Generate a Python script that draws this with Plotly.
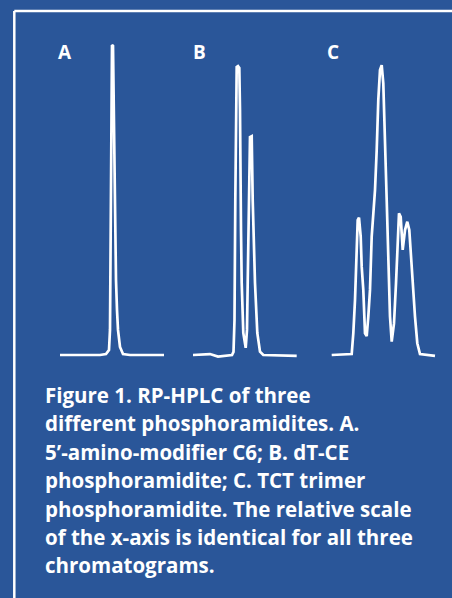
import plotly.graph_objects as go

# Chromatogram A: 5'-amino-modifier C6 (time units, relative signal)
a_time = [0.5, 4.5, 5.1, 5.4, 5.5, 5.55, 5.6, 5.65, 5.7, 5.8, 5.85, 5.9, 6.0, 6.1, 6.2, 6.3, 6.5, 6.8, 7.5, 10.9]
a_signal = [0, 0, 0.3, 1.6, 8.1, 33.9, 66.1, 88.7, 100, 99.7, 88.7, 66.1, 40.3, 24.2, 14.5, 8.1, 2.6, 0.3, 0, 0]

# Chromatogram B: dT-CE phosphoramidite
b_time = [0.5, 1.5, 2.2, 3.0, 3.8, 4.4, 4.55, 4.65, 4.73, 4.8, 4.87, 5.0, 5.13, 5.2, 5.22, 5.3, 5.37, 5.53, 5.77,
          5.9, 5.97, 6.1, 6.2, 6.37, 6.47, 6.7, 6.93, 7.2, 7.53, 10.87]
b_signal = [0, 0.2, 0.3, -0.5, -0.2, 0, 1.0, 11.3, 50, 79, 92.9, 93.2, 92.6, 79, 60.6, 40.3, 23.2, 7.1, 2.3,
            8.1, 23.2, 55.5, 70.3, 70.6, 50, 23.2, 7.1, 1.1, 0, -0.3]

# Chromatogram C: TCT trimer phosphoramidite
c_time = [0.47, 2.47, 2.63, 2.8, 2.97, 3.07, 3.2, 3.37, 3.47, 3.63, 3.8, 3.97, 4.13, 4.3, 4.47, 4.63, 4.8, 4.97,
          5.13, 5.3, 5.47, 5.63, 5.8, 5.97, 6.13, 6.3, 6.47, 6.7, 6.9, 7.03, 7.2, 7.37, 7.57, 7.8, 8.03, 8.23,
          8.4, 8.57, 8.8, 9.03, 9.3, 10.8]
c_signal = [0, 0.3, 7.0, 17.7, 33.9, 43.5, 44.3, 38.2, 28.5, 21.0, 7.0, 6.1, 12.4, 21.0, 38.2, 44.6, 53.2, 66.1,
            82.3, 91.9, 93.5, 87.6, 71.5, 50, 31.7, 12.4, 4.3, 10.2, 23.1, 36.0, 45.7, 44.6, 33.9, 40.3, 43.0, 40.3,
            31.7, 21.0, 12.4, 3.8, 0.3, -0.3]

panel_labels = ["A", "B", "C"]
caption_lines = [
    "Figure 1. RP-HPLC of three",
    "different phosphoramidites. A.",
    "5\u2019-amino-modifier C6; B. dT-CE",
    "phosphoramidite; C. TCT trimer",
    "phosphoramidite. The relative scale",
    "of the x-axis is identical for all three",
    "chromatograms.",
]

W, H = 452, 598
BG = "#2a5699"
FONT = "Open Sans"

fig = go.Figure()
series = [(a_time, a_signal, "x"), (b_time, b_signal, "x2"), (c_time, c_signal, "x3")]
for t, s, xa in series:
    fig.add_trace(go.Scatter(x=t, y=s, mode="lines", xaxis=xa, yaxis="y",
                             line=dict(color="white", width=2.7), hoverinfo="skip",
                             showlegend=False))

def px_x(p):
    return p / W

def px_y(p):
    return 1 - p / H

axis_common = dict(range=[0, 11.5], visible=False, showgrid=False, zeroline=False, fixedrange=True)
fig.update_layout(
    width=W, height=H,
    margin=dict(l=0, r=0, t=0, b=0),
    paper_bgcolor=BG, plot_bgcolor="rgba(0,0,0,0)",
    xaxis=dict(domain=[px_x(55), px_x(170)], anchor="y", **axis_common),
    xaxis2=dict(domain=[px_x(188), px_x(303)], anchor="y", **axis_common),
    xaxis3=dict(domain=[px_x(327), px_x(442)], anchor="y", **axis_common),
    yaxis=dict(domain=[px_y(364.3), px_y(35.7)], range=[-3, 103], visible=False,
               showgrid=False, zeroline=False, fixedrange=True),
)

# border frame (top and left edges; the rest runs off the page)
fig.add_shape(type="line", xref="paper", yref="paper",
              x0=px_x(14.3), x1=1.0, y0=px_y(11), y1=px_y(11),
              line=dict(color="white", width=2.5))
fig.add_shape(type="line", xref="paper", yref="paper",
              x0=px_x(14.3), x1=px_x(14.3), y0=0.0, y1=px_y(11),
              line=dict(color="white", width=2.5))

for lab, xp in zip(panel_labels, [65, 199, 333]):
    fig.add_annotation(text=lab, xref="paper", yref="paper", x=px_x(xp), y=px_y(52),
                       xanchor="center", yanchor="middle", showarrow=False,
                       font=dict(family=FONT, size=19, color="white", weight="bold"))

for i, line in enumerate(caption_lines):
    fig.add_annotation(text=line, xref="paper", yref="paper", x=px_x(43), y=px_y(395 + i * 28.4),
                       xanchor="left", yanchor="middle", showarrow=False,
                       font=dict(family=FONT, size=20.5, color="white", weight="bold"))

fig.write_html("out.html", config={"displayModeBar": False},
               post_script="document.body.style.margin='0';document.body.style.overflow='hidden';")
